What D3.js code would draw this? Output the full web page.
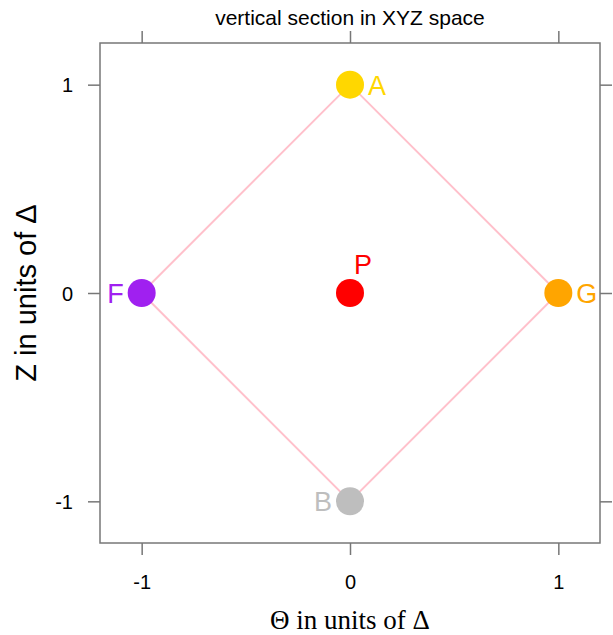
<!DOCTYPE html>
<html>
<head>
<meta charset="utf-8">
<script src="https://cdn.jsdelivr.net/npm/d3@7"></script>
<style>
body{margin:0;background:#fff;}
svg{display:block;}
</style>
</head>
<body>
<script>
// Data
const pointNames = ["A","B","F","G","P"];
const pointTheta = [0, 0, -1, 1, 0];
const pointZ = [1, -1, 0, 0, 0];
const pointColors = ["#FFD700","#BEBEBE","#A020F0","#FFA500","#FF0000"];
const labelPos = ["right","left","left","right","above"];
const diamondOrder = ["A","G","B","F","A"];
const xTicks = [-1, 0, 1];
const yTicks = [-1, 0, 1];
const titleText = "vertical section in XYZ space";
const xLabel = "\u0398 in units of \u0394";
const yLabel = "Z in units of \u0394";

const W = 613, H = 635;
const m = {left:100, right:600, top:43, bottom:543};
const svg = d3.select("body").append("svg").attr("width",W).attr("height",H);

const x = d3.scaleLinear().domain([-1.2,1.2]).range([m.left,m.right]);
const y = d3.scaleLinear().domain([-1.2,1.2]).range([m.bottom,m.top]);

const axisColor = "#777";
const tickFont = "Liberation Sans, Arial, sans-serif";
const fmt = d => String(d);

// bottom axis
const gb = svg.append("g").attr("transform",`translate(0,${m.bottom})`)
  .call(d3.axisBottom(x).tickValues(xTicks).tickSize(12).tickPadding(20).tickFormat(fmt));
// top axis (no labels)
const gt = svg.append("g").attr("transform",`translate(0,${m.top})`)
  .call(d3.axisTop(x).tickValues(xTicks).tickSize(12).tickFormat(""));
// left axis
const gl = svg.append("g").attr("transform",`translate(${m.left},0)`)
  .call(d3.axisLeft(y).tickValues(yTicks).tickSize(12).tickPadding(15).tickFormat(fmt));
// right axis (no labels)
const gr = svg.append("g").attr("transform",`translate(${m.right},0)`)
  .call(d3.axisRight(y).tickValues(yTicks).tickSize(12).tickFormat(""));

[gb,gt,gl,gr].forEach(g=>{
  g.select(".domain").remove();
  g.selectAll(".tick line").attr("stroke",axisColor).attr("stroke-width",1.5);
  g.selectAll(".tick text").attr("fill","#000").style("font-family",tickFont).style("font-size","20px");
});
gl.selectAll(".tick text").attr("dy","0.35em");

// panel border
svg.append("rect").attr("x",m.left).attr("y",m.top)
  .attr("width",m.right-m.left).attr("height",m.bottom-m.top)
  .attr("fill","none").attr("stroke",axisColor).attr("stroke-width",1.5);

// diamond lines
const idx = n => pointNames.indexOf(n);
const line = d3.line().x(n=>x(pointTheta[idx(n)])).y(n=>y(pointZ[idx(n)]));
svg.append("path").attr("d",line(diamondOrder))
  .attr("fill","none").attr("stroke","#FFC0CB").attr("stroke-width",2);

// points
const pts = pointNames.map((n,i)=>({n, t:pointTheta[i], z:pointZ[i], c:pointColors[i], p:labelPos[i]}));
svg.selectAll("circle.pt").data(pts).enter().append("circle")
  .attr("class","pt")
  .attr("cx",d=>x(d.t)).attr("cy",d=>y(d.z)).attr("r",14)
  .attr("fill",d=>d.c);

svg.selectAll("text.lab").data(pts).enter().append("text")
  .attr("class","lab")
  .attr("x",d=>x(d.t) + (d.p==="right"?18:d.p==="left"?-18:13))
  .attr("y",d=>y(d.z) + (d.p==="above"?-19:10))
  .attr("text-anchor",d=>d.p==="right"?"start":d.p==="left"?"end":"middle")
  .attr("fill",d=>d.c)
  .style("font-family",tickFont).style("font-size","27px")
  .text(d=>d.n);

// title
svg.append("text").attr("x",(m.left+m.right)/2).attr("y",25)
  .attr("text-anchor","middle").style("font-family",tickFont).style("font-size","21px")
  .text(titleText);

// x label (serif)
svg.append("text").attr("x",(m.left+m.right)/2).attr("y",629)
  .attr("text-anchor","middle").style("font-family","Liberation Serif, Times New Roman, serif").style("font-size","27px")
  .text(xLabel);

// y label
svg.append("text").attr("transform",`translate(36,${(m.top+m.bottom)/2}) rotate(-90)`)
  .attr("text-anchor","middle").style("font-family",tickFont).style("font-size","29px")
  .text(yLabel);
</script>
</body>
</html>
